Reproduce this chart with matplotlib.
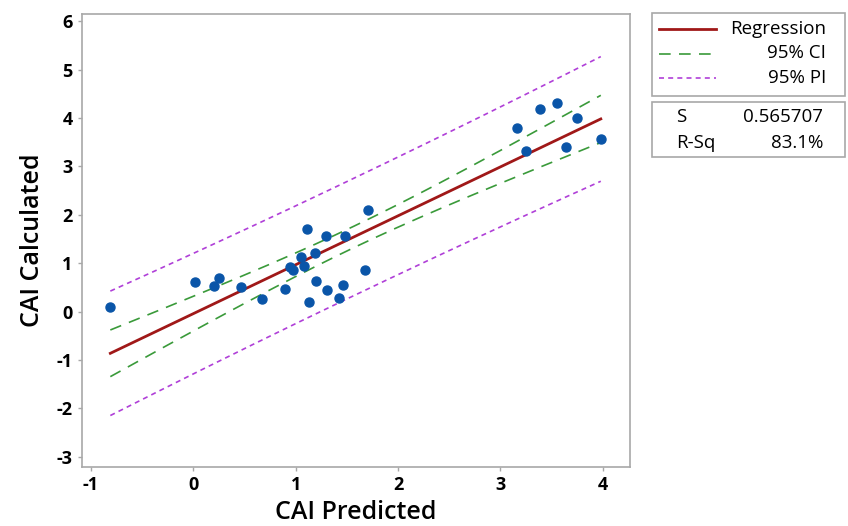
import matplotlib
matplotlib.use("Agg")
import matplotlib.pyplot as plt
from matplotlib.lines import Line2D
from matplotlib.patches import Rectangle
import numpy as np

plt.rcParams['font.family'] = ['Open Sans', 'DejaVu Sans']
plt.rcParams['axes.unicode_minus'] = False

# data
cai_predicted = [-0.81, 0.02, 0.20, 0.25, 0.47, 0.67, 0.90, 0.94, 0.97, 1.05,
                 1.08, 1.11, 1.19, 1.20, 1.13, 1.30, 1.31, 1.46, 1.42, 1.48,
                 1.68, 1.71, 3.16, 3.25, 3.39, 3.55, 3.75, 3.64, 3.98]
cai_calculated = [0.10, 0.61, 0.52, 0.70, 0.50, 0.26, 0.47, 0.92, 0.86, 1.13,
                  0.95, 1.71, 1.22, 0.63, 0.20, 1.56, 0.45, 0.55, 0.28, 1.56,
                  0.85, 2.11, 3.80, 3.32, 4.18, 4.32, 4.00, 3.40, 3.57]
s_text = "0.565707"
rsq_text = "83.1%"

x = np.array(cai_predicted)
y = np.array(cai_calculated)
n = len(x)

# fit + 95% intervals
slope, intercept = np.polyfit(x, y, 1)
resid = y - (intercept + slope * x)
s = np.sqrt(np.sum(resid ** 2) / (n - 2))
t_val = 2.052  # t(0.975, 27)
xbar = x.mean()
sxx = np.sum((x - xbar) ** 2)
xs = np.linspace(x.min(), x.max(), 200)
fit = intercept + slope * xs
ci = t_val * s * np.sqrt(1 / n + (xs - xbar) ** 2 / sxx)
pi = t_val * s * np.sqrt(1 + 1 / n + (xs - xbar) ** 2 / sxx)

red = '#A01818'
green = '#3A9A3A'
purple = '#B040D8'
blue = '#0A55A8'
grey = '#A8A8A8'

fig = plt.figure(figsize=(8.48, 5.26), dpi=100)
ax = fig.add_axes([0.0963, 0.1131, 0.6472, 0.8603])

ax.plot(xs, pi + fit, color=purple, lw=1.2, dashes=(3, 2.5))
ax.plot(xs, fit - pi, color=purple, lw=1.2, dashes=(3, 2.5))
ax.plot(xs, ci + fit, color=green, lw=1.2, dashes=(7, 5))
ax.plot(xs, fit - ci, color=green, lw=1.2, dashes=(7, 5))
ax.plot(xs, fit, color=red, lw=2)
ax.plot(x, y, 'o', color=blue, ms=6.5, mec=blue, zorder=5)

ax.set_xlim(-1.09, 4.27)
ax.set_ylim(-3.2, 6.15)
ax.set_xticks(range(-1, 5))
ax.set_yticks(range(-3, 7))
for sp in ax.spines.values():
    sp.set_color(grey)
    sp.set_linewidth(1.2)
ax.tick_params(colors=grey, length=3, width=1, labelcolor='black', labelsize=13)
for lab in ax.get_xticklabels() + ax.get_yticklabels():
    lab.set_fontweight('bold')

ax.set_xlabel("CAI Predicted", fontsize=18, fontweight='semibold', labelpad=5)
ax.set_ylabel("CAI Calculated", fontsize=18, fontweight='semibold', labelpad=8)

# legend boxes, drawn by hand in pixel-ish figure coords
W, H = 848, 526
def fx(px):
    return px / W
def fy(py):
    return 1 - py / H

fig.patches.append(Rectangle((fx(652), fy(96)), fx(845) - fx(652), fy(13.5) - fy(96),
                             transform=fig.transFigure, fill=False, ec=grey, lw=1.2))
fig.patches.append(Rectangle((fx(652), fy(157)), fx(845) - fx(652), fy(101.5) - fy(157),
                             transform=fig.transFigure, fill=False, ec=grey, lw=1.2))

rows = [("Regression", red, None, 2), ("95% CI", green, (7, 5), 1.2),
        ("95% PI", purple, (3, 2.5), 1.2)]
for i, (lab, col, dash, lw) in enumerate(rows):
    yy = 29 + i * 24.5
    ln = Line2D([fx(659), fx(716)], [fy(yy), fy(yy)], transform=fig.transFigure,
                color=col, lw=lw)
    if dash:
        ln.set_dashes(dash)
    fig.lines.append(ln)
    fig.text(fx(826), fy(yy), lab, ha='right', va='center', fontsize=13.5)

fig.text(fx(676), fy(117), "S", ha='left', va='center', fontsize=13.5)
fig.text(fx(823), fy(117), s_text, ha='right', va='center', fontsize=13.5)
fig.text(fx(676), fy(142.5), "R-Sq", ha='left', va='center', fontsize=13.5)
fig.text(fx(823), fy(142.5), rsq_text, ha='right', va='center', fontsize=13.5)

fig.savefig("out.png", dpi=100)
